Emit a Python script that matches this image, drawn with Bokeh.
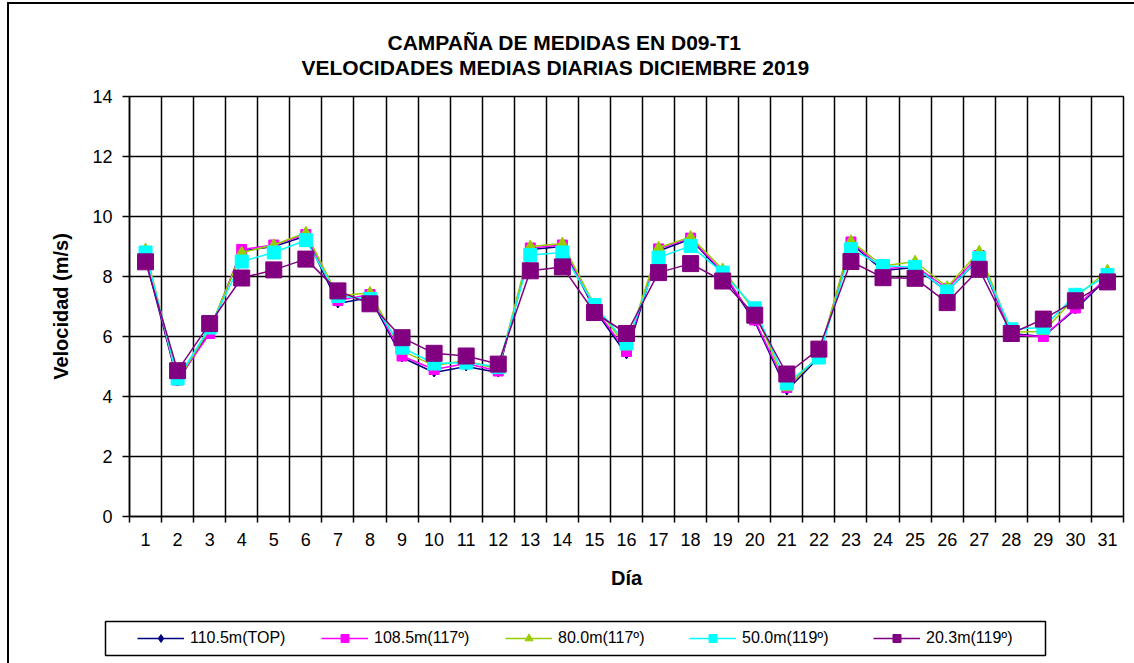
import numpy as np
from bokeh.plotting import figure
from bokeh.layouts import column, row
from bokeh.models import FixedTicker, Legend, LegendItem, Title, Range1d
from bokeh.embed import file_html
from bokeh.resources import INLINE

# ---------------- data ----------------
days = list(range(1, 32))
day_labels = [str(d) for d in days]
y_ticks = [0, 2, 4, 6, 8, 10, 12, 14]

v_110_5 = [8.60, 4.50, 6.20, 8.85, 9.00, 9.35, 7.10, 7.30, 5.30, 4.80, 5.00, 4.80,
           8.90, 9.00, 6.90, 5.40, 8.85, 9.25, 8.10, 6.50, 4.20, 5.30, 9.10, 8.20,
           8.30, 7.50, 8.60, 6.10, 6.00, 6.90, 7.95]
v_108_5 = [8.70, 4.55, 6.10, 8.90, 9.05, 9.40, 7.20, 7.40, 5.35, 4.90, 5.10, 4.85,
           8.95, 9.05, 6.95, 5.50, 8.92, 9.28, 8.15, 6.55, 4.30, 5.35, 9.15, 8.25,
           8.35, 7.60, 8.70, 6.05, 6.00, 6.95, 8.00]
v_80_0 = [8.90, 4.55, 6.25, 8.80, 9.05, 9.46, 7.35, 7.46, 5.52, 5.03, 5.20, 4.90,
          9.00, 9.10, 7.05, 5.66, 8.96, 9.32, 8.24, 6.85, 4.30, 5.35, 9.18, 8.35,
          8.50, 7.65, 8.83, 6.15, 6.17, 7.30, 8.20]
v_50_0 = [8.80, 4.60, 6.30, 8.50, 8.80, 9.21, 7.35, 7.25, 5.63, 5.10, 5.13, 4.98,
          8.72, 8.80, 7.05, 5.77, 8.63, 9.02, 8.13, 6.94, 4.44, 5.30, 8.91, 8.35,
          8.32, 7.50, 8.61, 6.24, 6.30, 7.39, 8.05]
v_20_3 = [8.49, 4.86, 6.43, 7.95, 8.22, 8.58, 7.52, 7.09, 5.96, 5.44, 5.35, 5.08,
          8.19, 8.32, 6.80, 6.10, 8.13, 8.43, 7.85, 6.71, 4.75, 5.58, 8.50, 7.96,
          7.94, 7.13, 8.24, 6.10, 6.58, 7.19, 7.82]

series_names = ["110.5m(TOP)", "108.5m(117º)", "80.0m(117º)", "50.0m(119º)", "20.3m(119º)"]
series_values = [v_110_5, v_108_5, v_80_0, v_50_0, v_20_3]
series_colors = ["#000080", "#FF00FF", "#99CC00", "#00FFFF", "#800080"]
series_markers = ["diamond", "square", "triangle", "square", "square"]
series_sizes = [9, 10, 11, 13, 16]

title_lines = ["CAMPAÑA DE MEDIDAS EN D09-T1", "VELOCIDADES MEDIAS DIARIAS DICIEMBRE 2019"]
x_label = "Día"
y_label = "Velocidad (m/s)"

FONT = "Liberation Sans"

# ---------------- main chart ----------------
p = figure(width=1125, height=600, x_range=(0.5, 31.5), y_range=(0, 14),
           output_backend="svg", toolbar_location=None,
           min_border_left=120, min_border_right=11, min_border_top=92,
           min_border_bottom=88)
p.background_fill_color = "white"
p.border_fill_color = "white"
p.outline_line_color = "black"
p.outline_line_width = 1.5

boundaries = list(np.arange(0.5, len(days) + 1, 1.0))

# x axis: labels at day centres, ticks + grid lines at the boundaries
p.xaxis.ticker = FixedTicker(ticks=days, minor_ticks=boundaries)
p.xaxis.major_label_overrides = {d: s for d, s in zip(days, day_labels)}
p.xaxis.major_tick_line_color = None
p.xaxis.major_tick_out = 6
p.xaxis.major_tick_in = 0
p.xaxis.minor_tick_line_color = "black"
p.xaxis.minor_tick_line_width = 1.5
p.xaxis.minor_tick_out = 6
p.xaxis.minor_tick_in = 0
p.xaxis.major_label_standoff = 10
p.xaxis.axis_label = x_label
p.xaxis.axis_label_standoff = 18

# y axis
p.yaxis.ticker = FixedTicker(ticks=y_ticks)
p.yaxis.major_tick_line_color = "black"
p.yaxis.major_tick_line_width = 1.5
p.yaxis.major_tick_out = 7
p.yaxis.major_tick_in = 0
p.yaxis.minor_tick_line_color = None
p.yaxis.major_label_standoff = 10
p.yaxis.axis_label = y_label
p.yaxis.axis_label_standoff = 17

for ax in (p.xaxis, p.yaxis):
    ax.axis_line_color = "black"
    ax.axis_line_width = 1.5
    ax.major_label_text_font = FONT
    ax.major_label_text_font_size = "18px"
    ax.major_label_text_color = "black"
    ax.axis_label_text_font = FONT
    ax.axis_label_text_font_size = "20px"
    ax.axis_label_text_font_style = "bold"
    ax.axis_label_text_color = "black"

# grids
p.xgrid.grid_line_color = None
p.xgrid.minor_grid_line_color = "black"
p.xgrid.minor_grid_line_width = 1.5
p.ygrid.grid_line_color = "black"
p.ygrid.grid_line_width = 1.5

# series
for name, vals, col, mk, sz in zip(series_names, series_values, series_colors,
                                   series_markers, series_sizes):
    p.line(days, vals, line_color=col, line_width=1.5)
    p.scatter(days, vals, marker=mk, size=sz, fill_color=col, line_color=col)

# two-line title: spacer (closest to frame), line 2, then main title line 1
spacer = Title(text=" ", text_font_size="1px", standoff=15)
p.add_layout(spacer, "above")
t2 = Title(text=title_lines[1], align="left", offset=172, standoff=0,
           text_font=FONT, text_font_size="21px", text_font_style="bold",
           text_color="black")
p.add_layout(t2, "above")
p.title.text = title_lines[0]
p.title.align = "left"
p.title.offset = 258
p.title.standoff = 0
p.title.text_font = FONT
p.title.text_font_size = "21px"
p.title.text_font_style = "bold"
p.title.text_color = "black"

# ---------------- legend strip (its frame = legend box) ----------------
# the series are drawn here too, but the ranges keep them out of view;
# they only feed the legend glyphs
pl = figure(width=1125, height=59, output_backend="svg", toolbar_location=None,
            x_range=Range1d(100, 101), y_range=Range1d(100, 101),
            x_axis_type=None, y_axis_type=None,
            min_border_left=96, min_border_right=89, min_border_top=17,
            min_border_bottom=8)
pl.xgrid.visible = False
pl.ygrid.visible = False
pl.outline_line_color = "black"
pl.outline_line_width = 1.5
pl.background_fill_color = "white"
pl.border_fill_color = "white"

items = []
for name, vals, col, mk, sz in zip(series_names, series_values, series_colors,
                                   series_markers, series_sizes):
    lr = pl.line(days, vals, line_color=col, line_width=1.5)
    sr = pl.scatter(days, vals, marker=mk, size=sz, fill_color=col, line_color=col)
    items.append(LegendItem(label=name, renderers=[lr, sr]))

legend = Legend(items=items, orientation="horizontal", location=(32, 7),
                glyph_width=47, glyph_height=20, label_standoff=6, label_width=100,
                spacing=31, padding=0, margin=0,
                border_line_color=None, background_fill_alpha=0.0,
                label_text_font=FONT, label_text_font_size="16px",
                label_text_color="black")
pl.add_layout(legend, "center")

layout = column(p, row(pl), spacing=0)
layout.styles = {"margin-left": "7px", "margin-top": "2px",
                 "border-left": "2px solid black", "border-top": "2px solid black"}

open("out.html", "w").write(file_html(layout, INLINE))
